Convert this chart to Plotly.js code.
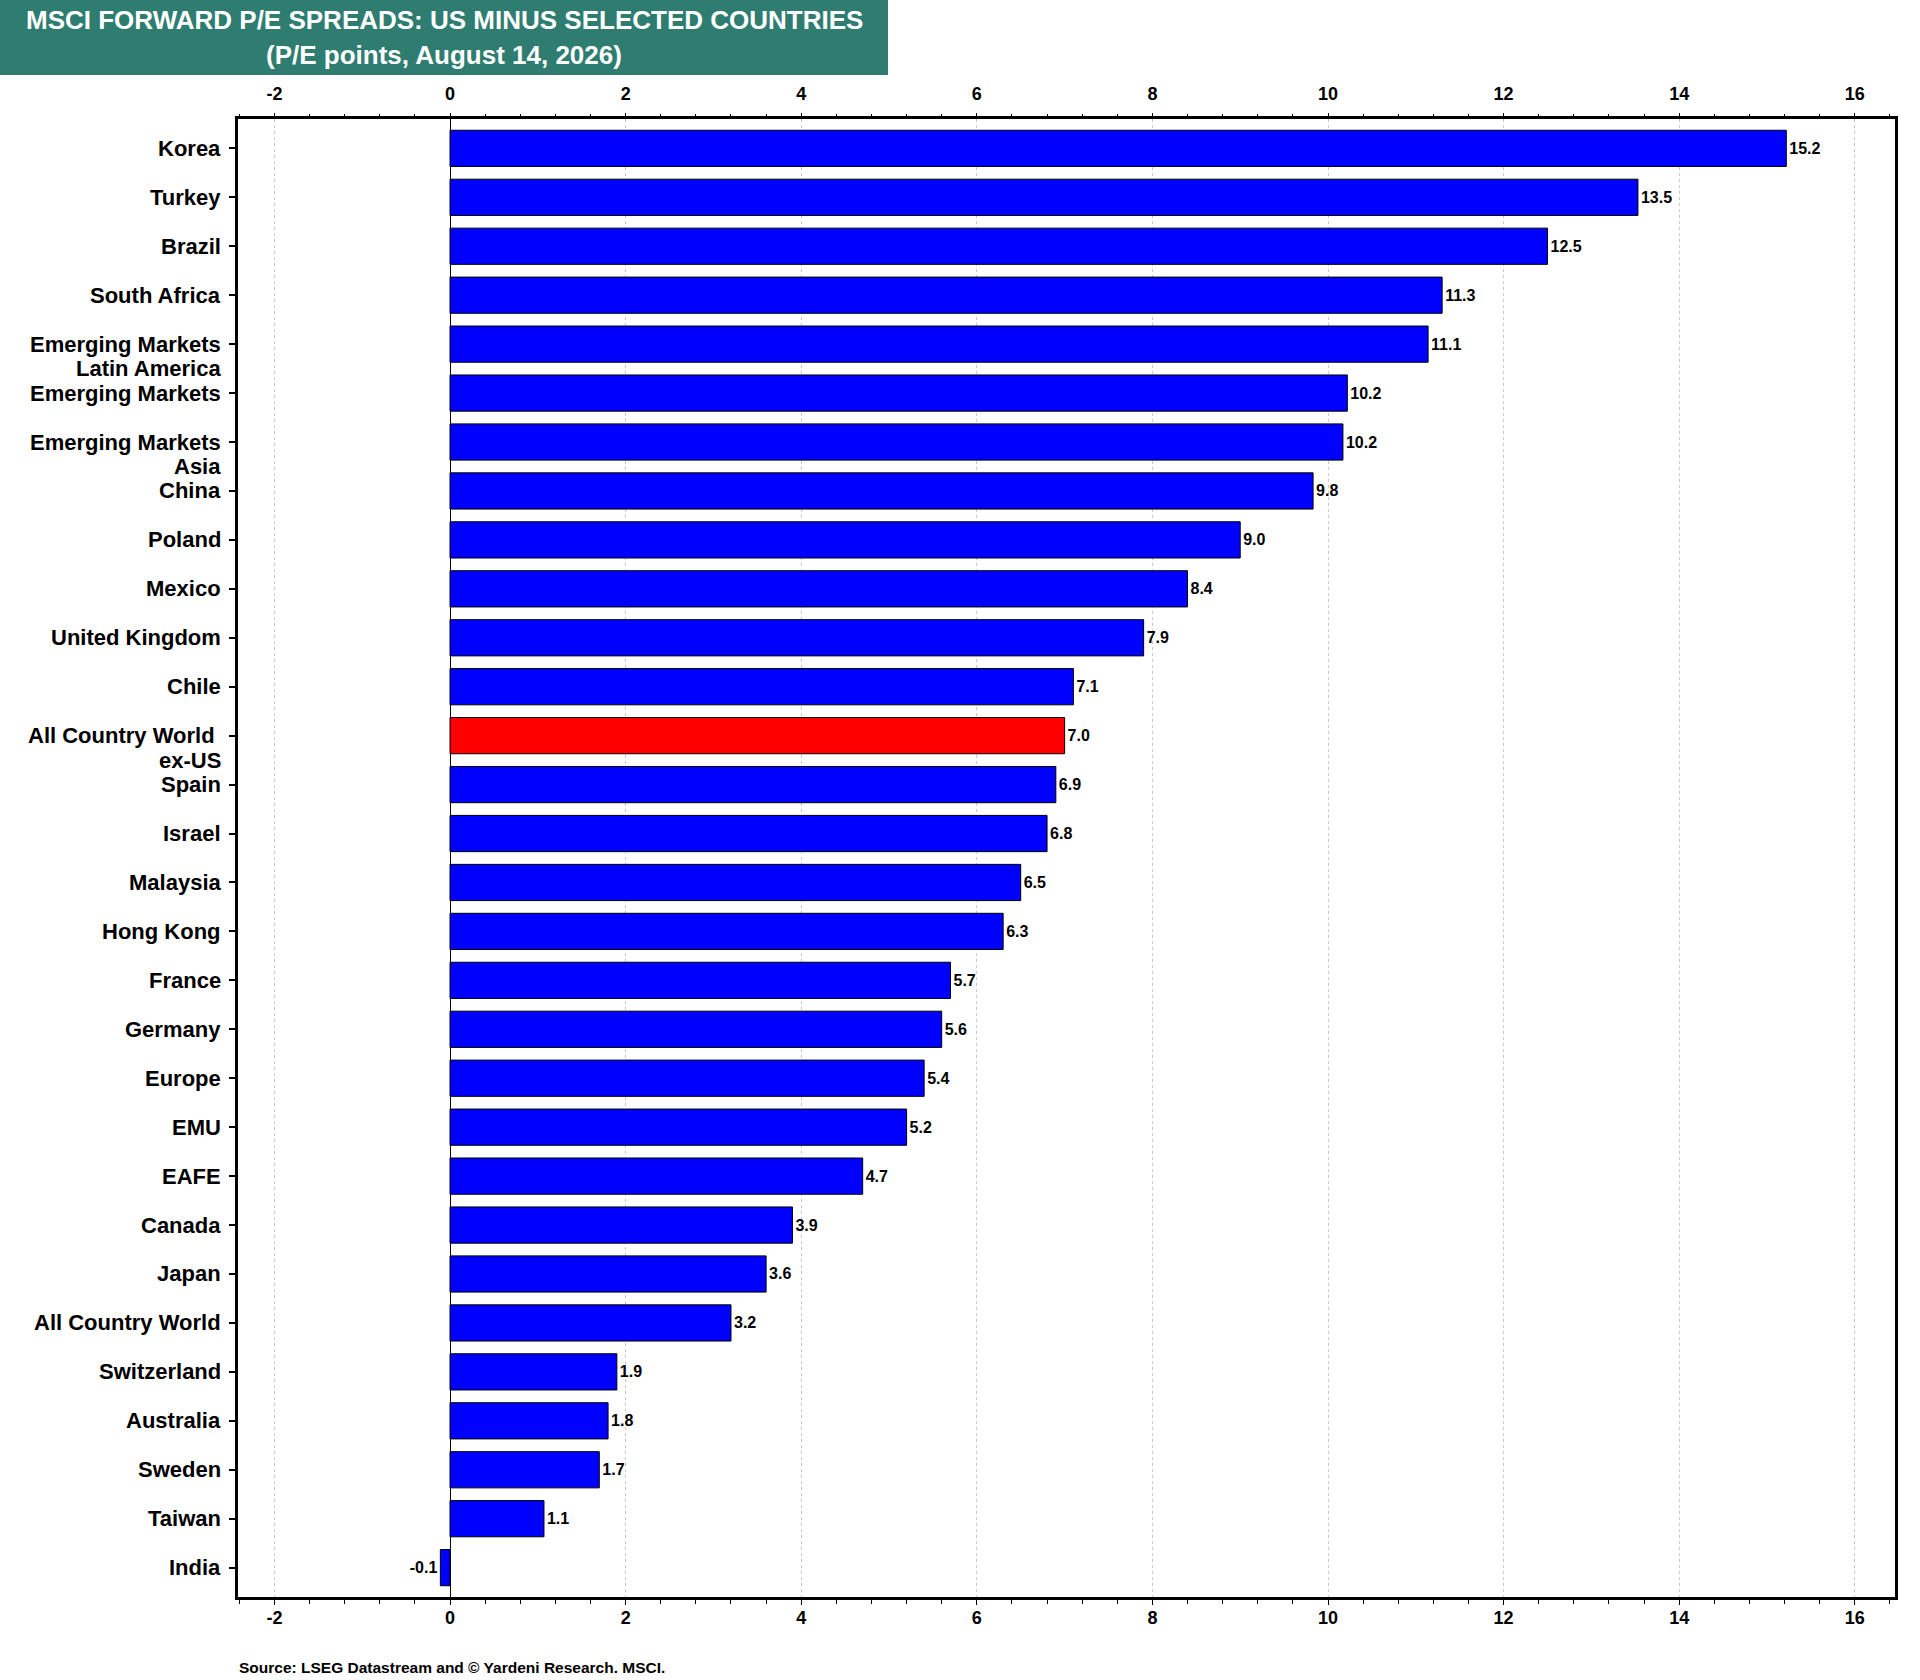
<!DOCTYPE html>
<html>
<head>
<meta charset="utf-8">
<script src="https://cdn.plot.ly/plotly-3.0.1.min.js"></script>
<style>
html,body{margin:0;padding:0;background:#ffffff;}
#chart{width:1920px;height:1680px;}
</style>
</head>
<body>
<div id="chart"></div>
<script>
// ---- data ----
const categories = [
  "Korea", "Turkey", "Brazil", "South Africa", "Emerging Markets Latin America",
  "Emerging Markets", "Emerging Markets Asia", "China", "Poland", "Mexico",
  "United Kingdom", "Chile", "All Country World ex-US", "Spain", "Israel",
  "Malaysia", "Hong Kong", "France", "Germany", "Europe",
  "EMU", "EAFE", "Canada", "Japan", "All Country World",
  "Switzerland", "Australia", "Sweden", "Taiwan", "India"
];
const labelLine1 = [
  "Korea", "Turkey", "Brazil", "South Africa", "Emerging Markets",
  "Emerging Markets", "Emerging Markets", "China", "Poland", "Mexico",
  "United Kingdom", "Chile", "All Country World\u00a0", "Spain", "Israel",
  "Malaysia", "Hong Kong", "France", "Germany", "Europe",
  "EMU", "EAFE", "Canada", "Japan", "All Country World",
  "Switzerland", "Australia", "Sweden", "Taiwan", "India"
];
const labelLine2 = [
  "", "", "", "", "Latin America",
  "", "Asia", "", "", "",
  "", "", "ex-US", "", "",
  "", "", "", "", "",
  "", "", "", "", "",
  "", "", "", "", ""
];
const spreads = [
  15.22, 13.53, 12.5, 11.3, 11.14,
  10.22, 10.17, 9.83, 9.0, 8.4,
  7.9, 7.1, 7.0, 6.9, 6.8,
  6.5, 6.3, 5.7, 5.6, 5.4,
  5.2, 4.7, 3.9, 3.6, 3.2,
  1.9, 1.8, 1.7, 1.07, -0.11
];
const xTickVals = [-2, 0, 2, 4, 6, 8, 10, 12, 14, 16];
const xTickText = ["-2", "0", "2", "4", "6", "8", "10", "12", "14", "16"];
const highlighted = "All Country World ex-US";
const titleLines = [
  "MSCI FORWARD P/E SPREADS: US MINUS SELECTED COUNTRIES",
  "(P/E points, August 14, 2026)"
];
const sourceText = "Source: LSEG Datastream and \u00a9 Yardeni Research. MSCI.";

// ---- layout geometry ----
const W = 1920, H = 1680, L = 238, R = 25, T = 119, B = 83;
const PW = W - L - R, PH = H - T - B;
const px = x => (x - L) / PW;
const py = y => 1 - (y - T) / PH;
const FONT = '"Liberation Sans", Arial, Helvetica, sans-serif';
const XR = [-2.415, 16.458];

const barColors = categories.map(c => c === highlighted ? "#ff0000" : "#0000ff");

const traces = [
  {
    type: "bar",
    orientation: "h",
    x: spreads,
    y: categories,
    width: 0.74,
    marker: { color: barColors, line: { color: "#000000", width: 1 } },
    text: spreads.map(v => v.toFixed(1)),
    textposition: "outside",
    cliponaxis: false,
    textfont: { family: FONT, size: 16, color: "#000000", weight: 700 },
    hoverinfo: "x+y",
    showlegend: false
  },
  {
    type: "scatter",
    mode: "none",
    x: spreads,
    y: categories,
    xaxis: "x2",
    hoverinfo: "skip",
    showlegend: false
  }
];

const tickFont = { family: FONT, size: 18, color: "#000000", weight: 700 };
const minorTicks = { tickmode: "linear", dtick: 0.4, tick0: 0, ticks: "outside", ticklen: 4, tickwidth: 1, tickcolor: "#000000", showgrid: false };

const labelFont = { family: FONT, size: 22, color: "#000000", weight: 700 };
const annotations = [];
categories.forEach((c, i) => {
  annotations.push({
    xref: "paper", x: 0, xanchor: "right", xshift: -16,
    yref: "y", y: i, yanchor: "middle", yshift: 0,
    text: labelLine1[i], align: "right", showarrow: false,
    borderpad: 0, font: labelFont
  });
  if (labelLine2[i]) {
    annotations.push({
      xref: "paper", x: 0, xanchor: "right", xshift: -16,
      yref: "y", y: i, yanchor: "middle", yshift: -24.5,
      text: labelLine2[i], align: "right", showarrow: false,
      borderpad: 0, font: labelFont
    });
  }
});
titleLines.forEach((t, k) => {
  annotations.push({
    xref: "paper", yref: "paper", x: px(444), y: py(k === 0 ? 20 : 55),
    xanchor: "center", yanchor: "middle", text: t, showarrow: false,
    font: { family: FONT, size: 26, color: "#ffffff", weight: 700 }
  });
});
annotations.push({
  xref: "paper", yref: "paper", x: px(237), y: py(1667),
  xanchor: "left", yanchor: "middle", text: sourceText, showarrow: false,
  font: { family: FONT, size: 15.5, color: "#000000", weight: 700 }
});

const layout = {
  width: W, height: H,
  margin: { l: L, r: R, t: T, b: B, pad: 0 },
  paper_bgcolor: "#ffffff",
  plot_bgcolor: "#ffffff",
  showlegend: false,
  xaxis: {
    range: XR, tickmode: "array", tickvals: xTickVals, ticktext: xTickText,
    ticks: "outside", ticklen: 5, tickwidth: 1, tickcolor: "#000000",
    showline: true, linewidth: 3, linecolor: "#000000", mirror: true,
    showgrid: true, gridcolor: "#c8c8c8", griddash: "dot", gridwidth: 1,
    zeroline: true, zerolinecolor: "#000000", zerolinewidth: 1,
    tickfont: tickFont, minor: minorTicks, ticklabelstandoff: -3, fixedrange: true
  },
  xaxis2: {
    overlaying: "x", side: "top", matches: "x",
    range: XR, tickmode: "array", tickvals: xTickVals, ticktext: xTickText,
    ticks: "outside", ticklen: 5, tickwidth: 1, tickcolor: "#000000",
    showline: false, showgrid: false, zeroline: false,
    tickfont: tickFont, minor: minorTicks, ticklabelstandoff: 6, fixedrange: true
  },
  yaxis: {
    type: "category", range: [29.6, -0.6],
    showticklabels: false,
    ticks: "outside", ticklen: 6, tickwidth: 2, tickcolor: "#000000",
    showline: true, linewidth: 3, linecolor: "#000000", mirror: true,
    showgrid: false, zeroline: false, fixedrange: true
  },
  shapes: [
    {
      type: "rect", xref: "paper", yref: "paper",
      x0: px(0), x1: px(888), y0: py(75), y1: py(0),
      fillcolor: "#2e7d70", line: { width: 0 }, layer: "below"
    }
  ],
  annotations: annotations
};

Plotly.newPlot("chart", traces, layout, { displayModeBar: false, staticPlot: true });
</script>
</body>
</html>
